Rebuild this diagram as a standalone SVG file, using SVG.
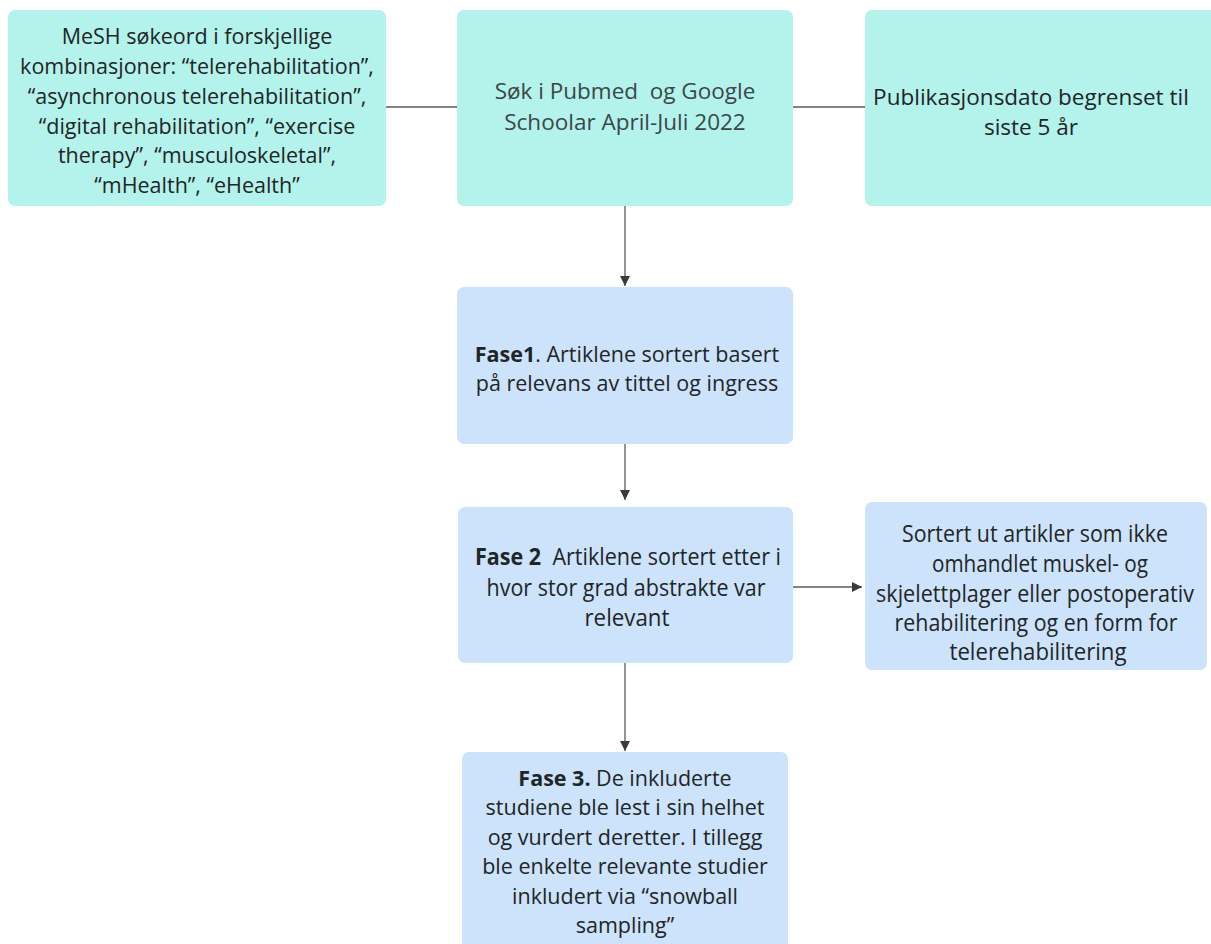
<svg xmlns="http://www.w3.org/2000/svg" width="1211" height="944" viewBox="0 0 1211 944">
  <style>
    .teal { fill: #b4f2ec; }
    .blue { fill: #cde2fb; }
    .lbl { font-family: "Open Sans", "Noto Sans", "Liberation Sans", sans-serif; font-size: 21.5px; fill: #1e2626; text-anchor: middle; white-space: pre; }
    .big { font-size: 22.5px; }
    .cond { font-size: 23px; }
    .soft { fill: #3b4747; }
    .b { font-weight: bold; }
    .wire { stroke: #5a5a5a; stroke-width: 1.3; fill: none; }
  </style>
  <defs>
    <marker id="arrow" viewBox="0 0 10 10" refX="10" refY="5" markerWidth="10" markerHeight="10" markerUnits="userSpaceOnUse" orient="auto">
      <path d="M0,0 L10,5 L0,10 z" fill="#3a3a3a"/>
    </marker>
  </defs>
  <rect width="1211" height="944" fill="#ffffff"/>

  <g id="connectors">
    <line class="wire" x1="386" y1="107" x2="457" y2="107"/>
    <line class="wire" x1="793" y1="107" x2="865" y2="107"/>
    <line class="wire" x1="625" y1="206" x2="625" y2="286" marker-end="url(#arrow)"/>
    <line class="wire" x1="625" y1="444" x2="625" y2="500" marker-end="url(#arrow)"/>
    <line class="wire" x1="793" y1="587" x2="862" y2="587" marker-end="url(#arrow)"/>
    <line class="wire" x1="625" y1="663" x2="625" y2="751" marker-end="url(#arrow)"/>
  </g>

  <g id="mesh-terms">
    <rect class="teal" x="8" y="10" width="378" height="196" rx="7"/>
    <text class="lbl" x="197" y="44">MeSH søkeord i forskjellige</text>
    <text class="lbl" x="197" y="74">kombinasjoner: “telerehabilitation”,</text>
    <text class="lbl" x="197" y="104">“asynchronous telerehabilitation”,</text>
    <text class="lbl" x="197" y="134">“digital rehabilitation”, “exercise</text>
    <text class="lbl" x="197" y="163">therapy”, “musculoskeletal”,</text>
    <text class="lbl" x="197" y="193">“mHealth”, “eHealth”</text>
  </g>

  <g id="search">
    <rect class="teal" x="457" y="10" width="336" height="196" rx="7"/>
    <text class="lbl big soft" x="625" y="99">Søk i Pubmed  og Google</text>
    <text class="lbl big soft" x="625" y="130">Schoolar April-Juli 2022</text>
  </g>

  <g id="date-limit">
    <rect class="teal" x="865" y="10" width="360" height="196" rx="7"/>
    <text class="lbl big" x="1031" y="105">Publikasjonsdato begrenset til</text>
    <text class="lbl big" x="1031" y="135">siste 5 år</text>
  </g>

  <g id="fase1">
    <rect class="blue" x="457" y="287" width="336" height="157" rx="7"/>
    <text class="lbl" x="627" y="362"><tspan class="b">Fase1</tspan>. Artiklene sortert basert</text>
    <text class="lbl" x="627" y="391">på relevans av tittel og ingress</text>
  </g>

  <g id="fase2">
    <rect class="blue" x="458" y="507" width="335" height="156" rx="7"/>
    <text class="lbl cond" x="628" y="565" textLength="306" lengthAdjust="spacingAndGlyphs"><tspan class="b">Fase 2</tspan>  Artiklene sortert etter i</text>
    <text class="lbl cond" x="626" y="596" textLength="279" lengthAdjust="spacingAndGlyphs">hvor stor grad abstrakte var</text>
    <text class="lbl cond" x="627" y="626" textLength="85" lengthAdjust="spacingAndGlyphs">relevant</text>
  </g>

  <g id="excluded">
    <rect class="blue" x="865" y="502" width="342" height="168" rx="7"/>
    <text class="lbl cond" x="1035" y="542" textLength="266" lengthAdjust="spacingAndGlyphs">Sortert ut artikler som ikke</text>
    <text class="lbl cond" x="1040" y="572" textLength="216" lengthAdjust="spacingAndGlyphs">omhandlet muskel- og</text>
    <text class="lbl cond" x="1035" y="602" textLength="318" lengthAdjust="spacingAndGlyphs">skjelettplager eller postoperativ</text>
    <text class="lbl cond" x="1036" y="631" textLength="283" lengthAdjust="spacingAndGlyphs">rehabilitering og en form for</text>
    <text class="lbl cond" x="1038" y="660" textLength="177" lengthAdjust="spacingAndGlyphs">telerehabilitering</text>
  </g>

  <g id="fase3">
    <rect class="blue" x="462" y="752" width="326" height="200" rx="7"/>
    <text class="lbl" x="625" y="786"><tspan class="b">Fase 3.</tspan> De inkluderte</text>
    <text class="lbl" x="625" y="815">studiene ble lest i sin helhet</text>
    <text class="lbl" x="625" y="845">og vurdert deretter. I tillegg</text>
    <text class="lbl" x="625" y="874">ble enkelte relevante studier</text>
    <text class="lbl" x="625" y="904">inkludert via “snowball</text>
    <text class="lbl" x="625" y="933">sampling”</text>
  </g>
</svg>
